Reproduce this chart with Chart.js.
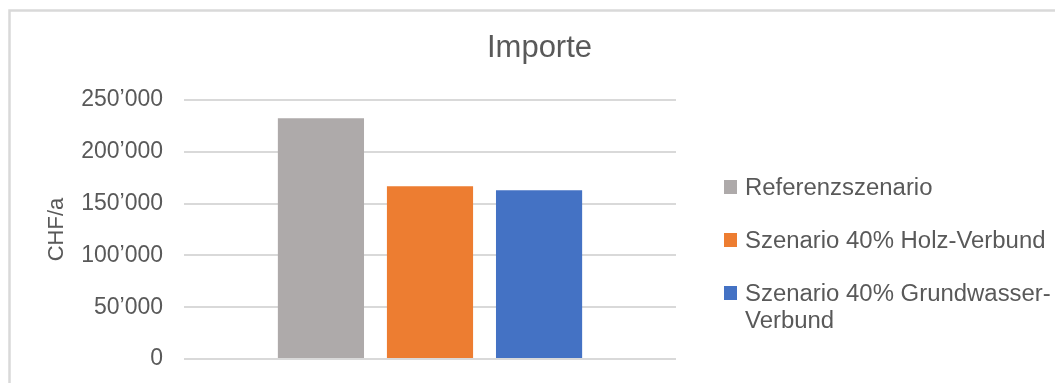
<!DOCTYPE html>
<html>
<head>
<meta charset="utf-8">
<script src="https://cdn.jsdelivr.net/npm/chart.js@4"></script>
<style>
  html, body { margin: 0; padding: 0; background: #fff; }
  #chart { display: block; }
</style>
</head>
<body>
<canvas id="chart" width="1055" height="383"></canvas>
<script>
// Daten
const categories = [''];
const seriesLabels = ['Referenzszenario', 'Szenario 40% Holz-Verbund', 'Szenario 40% Grundwasser-Verbund'];
const seriesValues = [[232300], [166700], [162800]];
const seriesColors = ['#AEAAAA', '#ED7D31', '#4472C4'];
// Legendenzeilen (Umbruch wie im Original)
const legendLines = [['Referenzszenario'], ['Szenario 40% Holz-Verbund'], ['Szenario 40% Grundwasser-', 'Verbund']];
const yTicks = [0, 50000, 100000, 150000, 200000, 250000];
const chartTitle = 'Importe';

const textColor = '#595959';
const fontFamily = '"Liberation Sans", Arial, sans-serif';

function formatCHF(n) {
    return String(n).replace(/\B(?=(\d{3})+(?!\d))/g, '\u2019');
}

// Rahmen um das Diagramm
const framePlugin = {
    id: 'frame',
    beforeDraw(chart) {
        const ctx = chart.ctx;
        ctx.save();
        ctx.strokeStyle = '#D9D9D9';
        ctx.lineWidth = 2.5;
        ctx.strokeRect(9.5, 10.5, chart.width + 20, chart.height + 20);
        ctx.restore();
    }
};

// Titel (ueber die ganze Flaeche zentriert) und Legende rechts, mit Zeilenumbruch
const textPlugin = {
    id: 'sideLegend',
    afterDraw(chart) {
        const ctx = chart.ctx;
        ctx.save();
        ctx.fillStyle = textColor;
        ctx.textBaseline = 'alphabetic';
        ctx.textAlign = 'center';
        ctx.font = '31px ' + fontFamily;
        ctx.fillText(chartTitle, 539.5, 57);

        const x0 = chart.chartArea.right + 48;
        const baselines = [195, 248, 301];
        ctx.textAlign = 'left';
        ctx.font = '23px ' + fontFamily;
        chart.data.datasets.forEach((ds, i) => {
            ctx.fillStyle = ds.backgroundColor;
            ctx.fillRect(x0, baselines[i] - 15, 13, 14);
            ctx.fillStyle = textColor;
            legendLines[i].forEach((line, j) => {
                ctx.save();
                ctx.translate(x0 + 21, baselines[i] + j * 27);
                ctx.scale(1.04, 1);
                ctx.fillText(line, 0, 0);
                ctx.restore();
            });
        });
        ctx.restore();
    }
};

new Chart(document.getElementById('chart'), {
    type: 'bar',
    data: {
        labels: categories,
        datasets: seriesLabels.map((label, i) => ({
            label: label,
            data: seriesValues[i],
            backgroundColor: seriesColors[i],
            borderWidth: 0,
            categoryPercentage: 0.665,
            barPercentage: 0.79
        }))
    },
    options: {
        responsive: false,
        animation: false,
        layout: {
            padding: { left: 0, right: 379, top: 100, bottom: 24 }
        },
        plugins: {
            legend: { display: false },
            tooltip: { enabled: false },
            title: { display: false }
        },
        scales: {
            x: {
                display: false,
                ticks: { display: false },
                afterFit(scale) {
                    scale.height = 0;
                    scale.paddingTop = 0;
                    scale.paddingBottom = 0;
                }
            },
            y: {
                min: 0,
                max: 250000,
                afterFit(scale) {
                    scale.width = 184;
                    scale.paddingTop = 0;
                    scale.paddingBottom = 0;
                },
                afterBuildTicks(scale) { scale.ticks = yTicks.map(v => ({ value: v })); },
                border: { display: false },
                grid: { color: '#D9D9D9', lineWidth: 2, drawTicks: false },
                ticks: {
                    color: textColor,
                    padding: 21,
                    font: { family: fontFamily, size: 23 },
                    callback: v => formatCHF(v)
                },
                title: {
                    display: true,
                    text: 'CHF/a',
                    color: textColor,
                    font: { family: fontFamily, size: 22 },
                    padding: { top: 44, bottom: 0 }
                }
            }
        }
    },
    plugins: [framePlugin, textPlugin]
});
</script>
</body>
</html>
